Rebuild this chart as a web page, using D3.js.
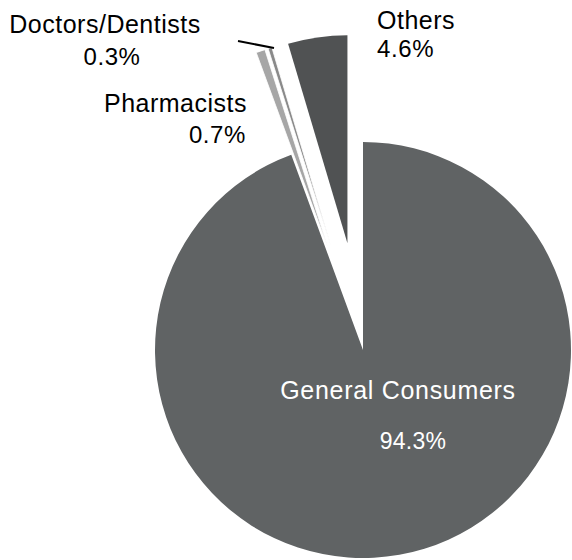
<!DOCTYPE html>
<html>
<head>
<meta charset="utf-8">
<script src="https://cdn.jsdelivr.net/npm/d3@7"></script>
<style>
  body { margin: 0; background: #fff; }
  text { font-family: "Liberation Sans", Arial, sans-serif; }
</style>
</head>
<body>
<div id="app"></div>
<script>
// data
const categories = ['General Consumers', 'Pharmacists', 'Doctors/Dentists', 'Others'];
const shares = [94.3, 0.7, 0.3, 4.6];
const colors = ['#606364', '#a6a6a6', '#8a8a8a', '#505253'];

const width = 572, height = 560;
const cx = 363, cy = 350, radius = 208;
const explode = 108;

const svg = d3.select('#app').append('svg')
  .attr('width', width)
  .attr('height', height);

const data = categories.map((c, i) => ({ name: c, value: shares[i], color: colors[i] }));

const pie = d3.pie().sort(null).value(d => d.value);
const arc = d3.arc().innerRadius(0).outerRadius(radius);
const arcs = pie(data);

// offset for exploded slices (all but the first)
const offset = (d, i) => {
  if (i === 0) return [0, 0];
  const a = (d.startAngle + d.endAngle) / 2;
  return [Math.sin(a) * explode, -Math.cos(a) * explode];
};

const g = svg.append('g').attr('transform', `translate(${cx},${cy})`);

g.selectAll('path')
  .data(arcs)
  .join('path')
  .attr('transform', (d, i) => `translate(${offset(d, i)})`)
  .attr('d', arc)
  .attr('fill', d => d.data.color)
  .attr('stroke', (d, i) => (i === 1 || i === 2) ? '#fff' : 'none')
  .attr('stroke-width', 0.8);

// labels
const labelFont = 25, pctFont = 24;

// General Consumers (inside)
g.append('text')
  .attr('x', 35).attr('y', 49)
  .attr('text-anchor', 'middle')
  .attr('fill', '#fff')
  .style('font-size', labelFont + 'px')
  .style('letter-spacing', '0.7px')
  .text(categories[0]);
g.append('text')
  .attr('x', 50).attr('y', 99)
  .attr('text-anchor', 'middle')
  .attr('fill', '#fff')
  .style('font-size', (pctFont - 1) + 'px')
  .style('letter-spacing', '0.3px')
  .text(shares[0].toFixed(1) + '%');

// outside labels
const outside = [
  { i: 1, anchor: 'end', x: 247, y: 112, px: 246, py: 143 },
  { i: 2, anchor: 'middle', x: 105, y: 33, px: 112, py: 65 },
  { i: 3, anchor: 'start', x: 377, y: 29, px: 377, py: 57 }
];

outside.forEach(o => {
  svg.append('text')
    .attr('x', o.x).attr('y', o.y)
    .attr('text-anchor', o.anchor)
    .attr('fill', '#000')
    .style('font-size', labelFont + 'px')
    .style('letter-spacing', '0.5px')
    .text(categories[o.i]);
  svg.append('text')
    .attr('x', o.px).attr('y', o.py)
    .attr('text-anchor', o.anchor)
    .attr('fill', '#000')
    .style('font-size', pctFont + 'px')
    .style('letter-spacing', '0.6px')
    .text(shares[o.i].toFixed(1) + '%');
});

// leader line for Doctors/Dentists
const doc = arcs[2];
const docMid = (doc.startAngle + doc.endAngle) / 2;
const docOff = offset(doc, 2);
const tip = [cx + docOff[0] + Math.sin(docMid) * radius, cy + docOff[1] - Math.cos(docMid) * radius];
svg.append('line')
  .attr('x1', 238).attr('y1', 41)
  .attr('x2', tip[0] + 4).attr('y2', tip[1])
  .attr('stroke', '#000')
  .attr('stroke-width', 2);
</script>
</body>
</html>
